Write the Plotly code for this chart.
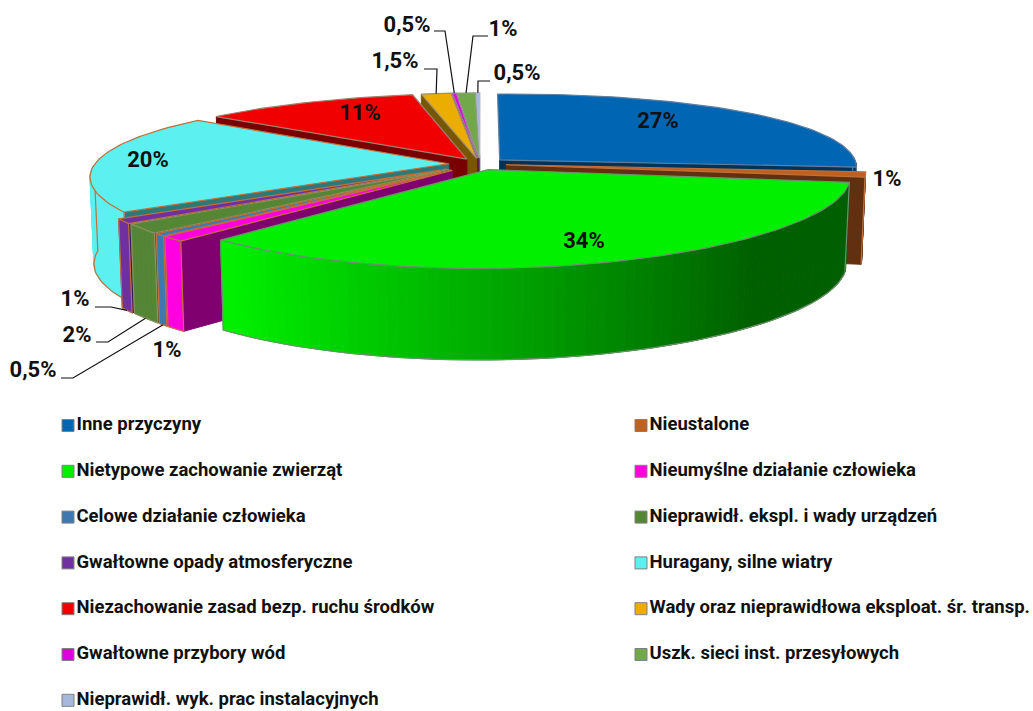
"""
Exploded 3D pie of failure causes, drawn as projected polygons on hidden axes.
"""
import math

import plotly.graph_objects as go

CATEGORIES = [
    'Inne przyczyny', 'Nieustalone', 'Nietypowe zachowanie zwierząt',
    'Nieumyślne działanie człowieka', 'Celowe działanie człowieka',
    'Nieprawidł. ekspl. i wady urządzeń', 'Gwałtowne opady atmosferyczne',
    'Huragany, silne wiatry', 'Niezachowanie zasad bezp. ruchu środków',
    'Wady oraz nieprawidłowa eksploat. śr. transp.', 'Gwałtowne przybory wód',
    'Uszk. sieci inst. przesyłowych', 'Nieprawidł. wyk. prac instalacyjnych',
]
# shares as drawn: the printed labels are rounded and add up to 101
VALUES = [26.8, 1, 33.7, 1, 0.5, 1.8, 0.9, 19.8, 11, 1.5, 0.2, 0.9, 0.2]
VALUE_LABELS = ['27%', '1%', '34%', '1%', '0,5%', '2%', '1%', '20%', '11%', '1,5%', '0,5%', '1%', '0,5%']
COLORS = [
    '#0066B3', '#C0601F', '#00F000', '#FF00E0', '#3F78B0', '#548636', '#7030A0',
    '#5CF0F0', '#F00000', '#EBAE00', '#E000E0', '#70A84A', '#A6B8DC',
]
EDGE_COLORS = [
    '#5F7F9F', '#C0703A', '#6F8F6F', '#C0703A', '#C0703A', '#8F8F60', '#C0703A',
    '#C0703A', '#A08070', '#A09070', '#A080A0', '#909F80', '#B0B8C8',
]
# how far each slice is pulled out of the pie
EXPLODES = [0.074, 0.074, 0.074, 0.11, 0.11, 0.11, 0.112, 0.088, 0.074, 0.074, 0.074, 0.074, 0.074]
# label centres, pixels
LABEL_POS = [
    (658, 122), (887, 180), (584, 242), (167, 351), (33, 371), (77, 336), (75, 300),
    (148, 161), (360, 114), (395, 62), (407, 26), (503, 30), (517, 74),
]
# leader elbows (start, knee) per slice index, the end is taken from the rim
LEADERS = {
    4: ((61, 378), (73, 378)),
    5: ((96, 342), (108, 342)),
    6: ((95, 307), (111, 307)),
    9: ((424, 69), (437, 69)),
    10: ((434, 31), (445, 31)),
    11: ((488, 36), (473, 36)),
    12: ((490, 81), (478, 81)),
}

FONT = 'Roboto, Liberation Sans'

# projection of the pie
CX, CY = 480, 164
RX, RY = 356, 79
DEPTH = 86
PERSP_X = 0.12
PERSP_Y = 0.178
SKEW = 0.008
BOTTOM_SCALE = 0.99
STEP_DEG = 1.5


def project(x, y, drop=0.0):
    k = BOTTOM_SCALE if drop else 1
    px = RX * x * k / (1 + PERSP_X * y)
    py = CY - RY * y / (1 + PERSP_Y * y) + DEPTH * drop * (1 - 0.06 * y) - SKEW * px
    return CX + px, py


def shade(color, f):
    r, g, b = (int(color[i:i + 2], 16) for i in (1, 3, 5))
    return f'rgb({r * f:.0f},{g * f:.0f},{b * f:.0f})'


def rim_factor(theta):
    # bright towards the left, darkest at the right
    return max(0.40, min(1.0, 1.0 - 0.4545 * (math.sin(theta) + 0.65)))


def polygon(fig, pts, fill, edge=None):
    fig.add_trace(go.Scatter(
        x=[p[0] for p in pts] + [pts[0][0]],
        y=[p[1] for p in pts] + [pts[0][1]],
        mode='lines',
        fill='toself',
        fillcolor=fill,
        line=dict(color=edge or fill, width=1.2 if edge else 1),
        hoverinfo='skip',
        showlegend=False,
    ))


total = sum(VALUES)
slices = []
cum = 0
for i, v in enumerate(VALUES):
    start = 2 * math.pi * cum / total
    end = 2 * math.pi * (cum + v) / total
    cum += v
    mid = (start + end) / 2
    ox, oy = EXPLODES[i] * math.sin(mid), EXPLODES[i] * math.cos(mid)
    slices.append(dict(i=i, start=start, end=end, mid=mid, ox=ox, oy=oy))


def rim_point(sl, theta, drop=0.0):
    return project(sl['ox'] + math.sin(theta), sl['oy'] + math.cos(theta), drop)


fig = go.Figure()

for sl in sorted(slices, key=lambda q: -math.cos(q['mid'])):
    color = COLORS[sl['i']]
    edge = EDGE_COLORS[sl['i']]
    tip = project(sl['ox'], sl['oy'])
    tip_low = project(sl['ox'], sl['oy'], 1)
    n = max(2, int(math.degrees(sl['end'] - sl['start']) / STEP_DEG) + 1)
    angles = [sl['start'] + (sl['end'] - sl['start']) * k / n for k in range(n + 1)]

    # radial walls, only when facing the viewer
    for theta, normal in ((sl['start'], sl['start'] - math.pi / 2), (sl['end'], sl['end'] + math.pi / 2)):
        if math.cos(normal) < 0:
            polygon(fig, [tip, rim_point(sl, theta), rim_point(sl, theta, 1), tip_low], shade(color, 0.5))

    # outer wall, one quad per step; the back half stays hidden
    front = [a for a in angles if math.cos(a) < 0.03]
    for a, b in zip(front[:-1], front[1:]):
        polygon(fig, [rim_point(sl, a), rim_point(sl, b), rim_point(sl, b, 1), rim_point(sl, a, 1)],
                shade(color, rim_factor((a + b) / 2)))

    # thin outline round the outer wall
    if len(front) > 1:
        path = [rim_point(sl, front[0])] + [rim_point(sl, a, 1) for a in front] + [rim_point(sl, front[-1])]
        fig.add_trace(go.Scatter(
            x=[p[0] for p in path],
            y=[p[1] for p in path],
            mode='lines',
            line=dict(color=edge, width=1.2),
            hoverinfo='skip',
            showlegend=False,
        ))

    polygon(fig, [tip] + [rim_point(sl, a) for a in angles], color, edge)

# leader lines
for i, (p0, p1) in LEADERS.items():
    sl = slices[i]
    drop = 1 if math.cos(sl['mid']) < 0 else 0
    end = rim_point(sl, sl['mid'], drop)
    fig.add_trace(go.Scatter(
        x=[p0[0], p1[0], end[0]],
        y=[p0[1], p1[1], end[1]],
        mode='lines',
        line=dict(color='#111111', width=1.2),
        hoverinfo='skip',
        showlegend=False,
    ))

# value labels
fig.add_trace(go.Scatter(
    x=[p[0] for p in LABEL_POS],
    y=[p[1] for p in LABEL_POS],
    mode='text',
    text=VALUE_LABELS,
    textposition='middle center',
    textfont=dict(family=FONT, size=22, color='#111111', weight='bold'),
    hoverinfo='skip',
    showlegend=False,
))

# legend, two columns
for col, x in enumerate((68, 641)):
    idx = list(range(col, len(CATEGORIES), 2))
    fig.add_trace(go.Scatter(
        x=[x] * len(idx),
        y=[425.5 + 45.8 * (k // 2) for k in idx],
        mode='markers+text',
        marker=dict(symbol='square', size=12, color=[COLORS[k] for k in idx], line=dict(color='#808080', width=1)),
        text=[CATEGORIES[k] for k in idx],
        textposition='middle right',
        textfont=dict(family=FONT, size=18.5, color='#111111', weight='bold'),
        hoverinfo='skip',
        showlegend=False,
    ))

fig.update_layout(
    width=1033,
    height=711,
    margin=dict(l=0, r=0, t=0, b=0),
    paper_bgcolor='white',
    plot_bgcolor='white',
    showlegend=False,
    xaxis=dict(range=[0, 1033], visible=False, fixedrange=True),
    yaxis=dict(range=[711, 0], visible=False, fixedrange=True),
)

# the page keeps the browser's default body margin otherwise
fig.write_html("out.html", config={'displayModeBar': False}, post_script="document.body.style.margin = '0';")
